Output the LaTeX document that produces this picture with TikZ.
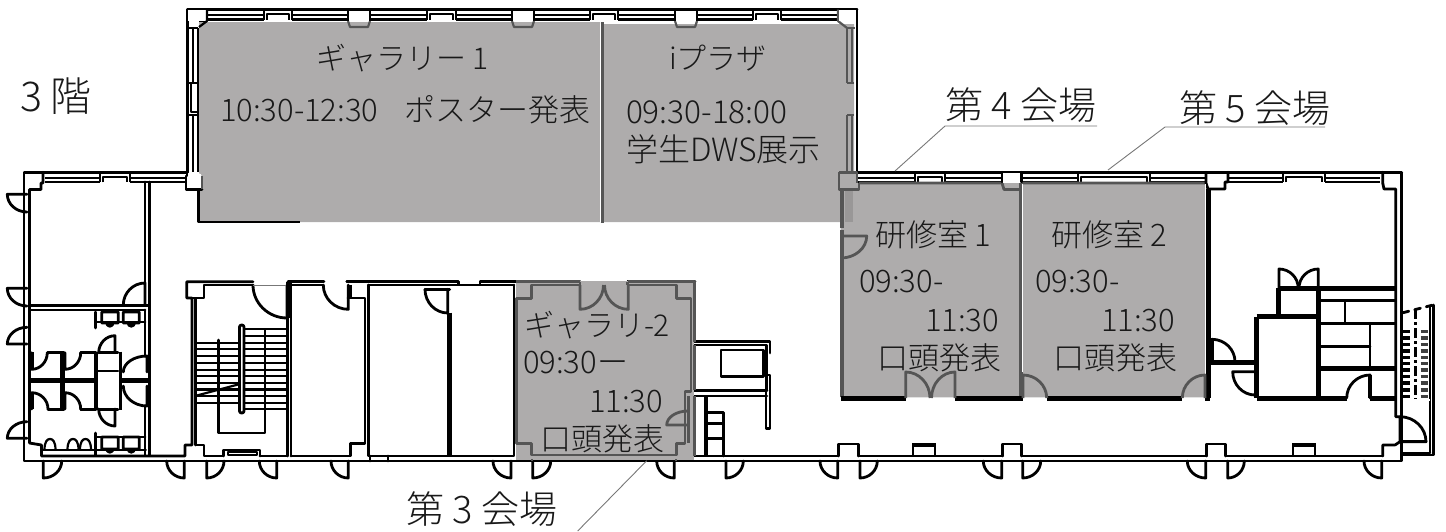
\documentclass[tikz,border=0pt]{standalone}
\usepackage{fontspec}
\usetikzlibrary{calc}
\newfontfamily\jp{Noto Sans CJK JP Light}
\definecolor{roomgray}{HTML}{AEACAC}
\definecolor{wallgray}{HTML}{555555}
\definecolor{stripgray}{HTML}{999797}
\definecolor{leadgray}{HTML}{777777}
\newcommand\dr[7][wl]{\draw[#1] (#2,#3) -- (#4,#5) .. controls ($(#4,#5)+0.55*(#6,#7)-0.55*(#2,#3)$) and ($(#6,#7)+0.55*(#4,#5)-0.55*(#2,#3)$) .. (#6,#7);}
\newcommand\dd[2]{\dr{#1}{461}{#1}{478}{#2}{461}}
\newcommand\win[6][wn]{\draw[#1] (#2,#6+5.5)--(#4,#6+5.5) (#5,#6+5.5)--(#3,#6+5.5) (#2,#6+10)--(#4,#6+10) (#5,#6+10)--(#3,#6+10) (#4,#6)--(#4,#6+10) (#5,#6)--(#5,#6+10) (#4+3,#6+10)--(#4+3,#6+4.5)--(#5-3,#6+4.5)--(#5-3,#6+10);}
\newcommand\tx[4]{\node[txt,font=\jp\fontsize{#1}{#1}\selectfont] (#2) at #3 {#4};}
\tikzset{
  wl/.style={draw=black,line width=1.4pt,line join=round,line cap=round},
  wn/.style={draw=black,line width=1.1pt,line join=round},
  tk/.style={draw=black,line width=2.4pt,line join=round},
  gw/.style={draw=wallgray,line width=1.4pt,line join=round},
  gn/.style={draw=wallgray,line width=1.1pt,line join=round},
  gk/.style={draw=wallgray,line width=2.2pt,line join=round},
  lead/.style={draw=leadgray,line width=0.45pt},
  txt/.style={anchor=base west,inner sep=0pt,outer sep=0pt,text=black!90},
}
\begin{document}
\begin{tikzpicture}[x=0.5pt,y=-0.5pt]
\useasboundingbox (0,0) rectangle (1446,531);
% ---------- base outline, main building
\draw[wl] (187,172.3)--(24,172.3)--(24,461)--(1401.7,461)--(1401.7,172.3)--(857,172.3);
\draw[wl] (43,172.3)--(43,183)--(41,183)--(41,189.5)--(29.5,189.5)--(29.5,443)--(41.5,445)--(41.5,456)--(185,456)--(185,445)--(192,445)--(192,298)--(186.7,298)--(186.7,281.7)--(253,281.7);
\win{45}{185}{100}{130}{172.3}
% NW room
\draw[wl] (145,182)--(145,305) (149.3,182)--(149.3,455.5);
\draw[wl] (30,305.7)--(149,305.7) (30,310)--(145,310);
\dr{145}{305}{145}{283}{123.3}{305}
% toilets
\draw[wl] (95.7,312)--(95.7,328) (95.7,322)--(145,322) (95.7,433)--(95.7,455) (95.7,437)--(145,437);
\foreach \a/\b in {101.7/118.3,123.3/139.3}{
  \draw[wl] (\a,312) rectangle (\b,323) ($(\a,323)!0.3!(\b,323)$) arc[start angle=180,end angle=360,radius=1.6pt];
  \draw[wl] (\a,437) rectangle (\b,449) ($(\a,449)!0.3!(\b,449)$) arc[start angle=180,end angle=360,radius=1.6pt];
}
\foreach \a in {44.5,67.5,80}{
  \draw[wn] (\a,450) .. controls (\a,441) and (\a+3,439) .. (\a+5.5,439) .. controls (\a+8,439) and (\a+11,441) .. (\a+11,450);
}
\draw[wl] (41.5,450)--(145.7,450);
\draw[tk] (30,380.7)--(95,380.7) (120,380.7)--(148,380.7);
\draw[tk] (31.7,352)--(31.7,369) (31.7,392)--(31.7,409) (62.5,352)--(62.5,409);
\draw[wl] (47.5,352.7)--(64,352.7) (80.7,352.7)--(96,352.7) (48,409.3)--(64,409.3) (80.7,409.3)--(96,409.3) (99,352.7)--(118,352.7) (99,409.3)--(118,409.3) (97,371)--(118,371);
\draw[line width=1.8pt] (96,352)--(96,409.7) (120.3,351.7)--(120.3,409.7);
\dr{31.7}{352.7}{31.7}{369.3}{47.3}{352.7}
\dr{65}{352.7}{65}{369.3}{80.7}{352.7}
\dr{31.7}{409}{31.7}{392.7}{48}{409}
\dr{65}{409}{65}{392.7}{80.7}{409}
\dr{115}{352.7}{115}{335.7}{98.7}{352.7}
\dr{115}{409}{115}{426}{98.7}{409}
\dr{147}{372}{147}{356}{123.3}{372}
\dr{147}{386}{147}{406}{123.3}{386}
\draw[wl] (145,310)--(145,356) (145,406)--(145,455);
% left outside doors
\dr{27}{194.3}{7.3}{194.3}{27}{212}
\dr{27}{288.3}{7.3}{288.3}{27}{306}
\dr{27}{344}{7.3}{344}{27}{327.3}
\dr{27}{438.3}{7.3}{438.3}{27}{421.7}
% stair room
\draw[wl] (195.7,445)--(195.7,298)--(204,298)--(204,285)--(253,285);
\draw[wl] (195.7,445)--(204,445)--(204,456)--(223.3,456) (260,456)--(287.5,456);
\draw[wl] (192,298)--(195.7,298);
\dr{287}{285}{287}{318}{253}{285}
\draw[line width=0.5pt,leadgray] (253,285)--(287,285);
\draw[line width=2.8pt] (288.8,281.7)--(288.8,318);
\draw[wl] (287.5,318)--(287.5,456) (291,285)--(291,456);
\foreach \y in {329.3,336,342.7,349.3,356,363,370,376,383,389.5,396,403,409}{\draw[wn] (243,\y)--(286,\y);}
\foreach \y in {342.7,349.3,356,363,370,376,383,389.5,396,403}{\draw[wn] (196.7,\y)--(240,\y);}
\draw[wl,rounded corners=1pt] (239.5,325) rectangle (244,413);
\draw[wl] (218.3,340)--(218.3,433)--(265,433)--(265,330);
\draw[wn] (195,396)--(240,384);
\draw[wl] (223.3,456)--(223.3,450)--(260,450)--(260,456);
\draw[wn] (228,455)--(228,452)--(257,452)--(257,455)--cycle;
% rooms in the centre
\draw[wl] (288,281.7)--(324,281.7) (346.7,281.7)--(458.7,281.7)--(458.7,285)--(480,285)--(480,281.7)--(580,281.7) (627.7,281.7)--(695,281.7);
\draw[wl] (291,285)--(323.3,285) (368.3,285)--(458.7,285) (452,285)--(458.7,285) (480,285)--(514,285);
\draw[wl] (348,298)--(365,298)--(365,443.3)--(350.7,443.3)--(350.7,456)--(291,456);
\draw[line width=2pt] (350,285)--(350,298);
\dr{348.3}{285}{348.3}{309.3}{323.3}{285}
\draw[wl] (368.3,285)--(368.3,456)--(514,456)--(514,285);
\draw[wl] (425,289.3)--(449.7,289.3);
\dr{447.7}{289.3}{447.7}{313}{425}{289.3}
\draw[line width=2.4pt] (449.8,312.7)--(449.8,456);
\draw[wl] (370,456)--(370,461) (388,456)--(388,461);
% right block next to gallery 2
\draw[wl] (694.5,341.7)--(770,341.7)--(770,353) (694.5,345)--(766.5,345)--(766.5,390.7);
\draw[wl] (721,350) rectangle (763.3,376.7);
\draw[wl] (766,375)--(766,428.3)--(770,428.3)--(770,375)--(766,375);
\draw[wl] (688,390.7)--(767,390.7) (688,396)--(767,396);
\draw[line width=2.4pt] (706,396)--(706,456);
\draw[wl] (708,412.7)--(723.3,412.7)--(723.3,456) (708,423.3)--(723.3,423.3) (708,438.3)--(723.3,438.3);
% bottom inner line and columns
\draw[wl] (694,456)--(838.3,456) (858.3,456)--(1002.7,456) (1021.7,456)--(1206.7,456) (1225.7,456)--(1382.7,456);
\draw[wl] (838.3,456)--(838.3,444)--(858.3,444)--(858.3,456);
\draw[wl] (1002.7,456)--(1002.7,444)--(1021.7,444)--(1021.7,456);
\draw[wl] (1206.7,456)--(1206.7,444)--(1225.7,444)--(1225.7,456);
\draw[wl] (913,455.5)--(913,445.5)--(935,445.5)--(935,455.5);
\draw[line width=2.2pt] (912,445)--(936,445);
\draw[wl] (1293,455.5)--(1293,445.5)--(1315,445.5)--(1315,455.5);
\draw[line width=2.2pt] (1292,445)--(1316,445);
\foreach \a/\b in {43.3/61.7,184.3/166.7,206.7/224,276.7/259.3,348.3/331,511/493,532.7/550.7,674.3/656.7,726/743.3,837.7/820,860/877.3,1001.7/983.3,1022.7/1040.7,1205.7/1187.3,1227.7/1244.3,1381.7/1364}{\dd{\a}{\b}}
% upper wing: outline
\draw[wl] (187.5,172.3)--(187.5,9.5)--(857,9.5)--(857,172.3);
\draw[wn] (193,28)--(193,83) (193,115)--(193,172) (198,28)--(198,172);
\draw[wn] (187.5,28)--(198,28) (187.5,83)--(198,83) (187.5,115)--(198,115);
\draw[wn] (191,83)--(191,112)--(198,112);
\win{207}{348}{264}{292}{9.5}
\win{370}{512}{427}{456}{9.5}
\win{533}{675}{590}{618}{9.5}
\win{696}{838}{753}{781}{9.5}
% ---------- grey rooms
\fill[roomgray] (199,22)--(600,22)--(600,24)--(854,24)--(854,172)--(857,172)--(857,190)--(1205.7,190)--(1205.7,397.3)--(840.7,397.3)--(840.7,222)--(199,222)--cycle;
\fill[roomgray] (840.7,183) rectangle (1205.7,397.3);
\fill[roomgray] (516,281) rectangle (694.3,460);
\fill[stripgray] (845,190) rectangle (853,222);
% column shapes inside the grey
\foreach \a in {348,512,675}{
  \draw[gn] (\a,21)--(\a+2,27)--(\a+20,27)--(\a+22,21);
  \fill[white] (\a+0.6,10.2) rectangle (\a+21.4,20.5);
}
\draw[wn] (199,21)--(207,21);
\draw[wl] (187.5,9.5)--(857,9.5);
\foreach \a in {348,512,675}{\draw[wn] (\a,9.5)--(\a,21) (\a+22,9.5)--(\a+22,21);}
\fill[white] (188.2,10.2) rectangle (206.5,20.5);
\draw[wn] (207,9.5)--(207,21)--(199,27);
\draw[gn] (838,9.5)--(838,21)--(847,28);
\fill[white] (838.8,10.2) rectangle (856.2,20.5);
\draw[gn] (838,21)--(838,12);
\draw[gn] (847,28)--(847,83) (847,115)--(847,172) (852,28)--(852,83) (852,115)--(852,172) (847,83)--(854,83) (847,115)--(854,115);
\draw[gn] (847,28)--(855,28);
\draw[wl] (857,9.5)--(857,172.3);
\fill[white,rounded corners=2pt] (186,173) rectangle (202,189);
\draw[wl] (187,172.3)--(187,176)--(186,176)--(186,189.5)--(202,189.5);
\draw[line width=1.2pt,wallgray] (202,176)--(202,189);
\draw[wn] (198.5,190)--(198.5,222)--(300,222);
\draw[line width=1.2pt,draw=wallgray] (602.5,22)--(602.5,222.5);
\draw[line width=0.5pt,white] (600.5,24)--(600.5,222);
% windows lower wing (right)
\win{858}{1001.7}{915}{945}{172.3}
\win{1021.7}{1205}{1078}{1150}{172.3}
\win{1228}{1380}{1283}{1325}{172.3}
\draw[wl] (857,172.3)--(1401.7,172.3);
\draw[gw] (839,172.3)--(857,172.3)--(857,183) (839,172.3)--(839,189.5)--(859,189.5)--(859,183);
\draw[gw] (859,183)--(1002,183)--(1004,189.5)--(1021,189.5) (1021,183)--(1205.5,183);
\fill[white] (1002.5,173) rectangle (1021,182.5);
\draw[wl] (1002,172.3)--(1002,182) (1021.7,172.3)--(1021.7,182);
\draw[wl] (1206,172.3)--(1206,183)--(1208,189)--(1225,189)--(1225,182)--(1228,182) (1228,172.3)--(1228,182);
\draw[wl] (1382.7,172.3)--(1382.7,183)--(1384,189)--(1395.7,189)--(1395.7,416.7)--(1400,416.7)--(1400,441.7) (1395,445)--(1382.7,445)--(1382.7,456) (1395,445)--(1400,441.7);
% ---------- rooms 1 and 2 walls
\draw[gk] (842,189)--(842,228) (842,230)--(842,397);
\dr[gw]{841}{236}{866.7}{236}{841}{258}
\draw[gk] (1020.7,183)--(1020.7,397);
\draw[line width=0.5pt,white] (1022.6,184)--(1022.6,372);
\draw[line width=0.6pt,white] (1205.8,184)--(1205.8,396);
\draw[line width=2.4pt] (1208.6,189)--(1208.6,398);
\draw[tk] (841,398.3)--(906,398.3) (955,398.3)--(1023,398.3) (1046.7,398.3)--(1182.3,398.3) (1205,398.3)--(1210,398.3);
\dr[gw]{905.7}{398}{905.7}{372}{930}{398}
\dr[gw]{955}{398}{955}{372}{931.5}{398}
\dr[gw]{1023}{398}{1023}{375}{1046.7}{398}
\dr[gw]{1205}{398}{1205}{375}{1182.3}{398}
% gallery 2 walls
\draw[gw] (580,281.7)--(580,285) (627.7,281.7)--(627.7,285) (580,281.7)--(516,281.7) (627.7,281.7)--(694.3,281.7)--(694.3,341.7) (694.3,345)--(694.3,390);
\draw[gw] (580,285)--(531.7,285)--(531.7,298.3)--(516.7,298.3)--(516.7,443.3)--(531.7,443.3)--(531.7,455)--(676.7,455)--(676.7,443.3)--(685,443.3)--(685,391.7)--(691,391.7)--(691,298.3)--(676.7,298.3)--(676.7,285)--(628.3,285);
\draw[gw] (688.3,396)--(688.3,443.3);
\dr[gw]{580}{285}{580}{309.3}{603.5}{285}
\dr[gw]{628.3}{285}{628.3}{309.3}{604.5}{285}
\dr[gw]{688}{425}{666.7}{425}{688}{411}
\draw[wl] (516,461)--(694.3,461);
\draw[gw] (694.3,396)--(694.3,456);
\draw[gw] (532,459)--(532,461) (676,459)--(676,461);
% ---------- east block
\draw[line width=2.4pt] (1212,339)--(1212,362);
\dr{1212}{361.7}{1212}{339.3}{1235}{361.7}
\draw[line width=2.2pt] (1210,362.3)--(1258,362.3);
\dr{1255}{371.7}{1232.7}{371.7}{1255}{395}
\draw[tk] (1256.7,316.7)--(1256.7,398.3) (1256.7,316.7)--(1318.3,316.7);
\draw[tk] (1278.3,288.3)--(1278.3,316.7);
\draw[line width=2.8pt] (1278,288.3)--(1395,288.3);
\draw[line width=2.4pt] (1318.3,288.3)--(1318.3,398.3);
\draw[tk] (1256.7,398.3)--(1346.7,398.3) (1370,398.3)--(1395,398.3);
\dr{1279}{288}{1279}{269}{1298.2}{288}
\dr{1318.3}{288}{1318.3}{269}{1299}{288}
\draw[wl] (1318,300.7)--(1395,300.7) (1318,323.3)--(1395,323.3) (1345,300.7)--(1345,323.3) (1370,323.3)--(1370,367) (1318,346.7)--(1370,346.7);
\draw[line width=2.8pt] (1318,368.3)--(1395,368.3);
\dr{1370}{398}{1370}{375}{1346.7}{398}
\draw[line width=2pt] (1370,375)--(1370,398);
% fire stairs
\draw[wl] (1400,441.7)--(1426,441.7);
\dr{1400}{441.7}{1426}{441.7}{1400}{416.7}
\draw[wl] (1430,306)--(1430,453) (1433.3,305)--(1433.3,455)--(1403,455) (1403,453)--(1430,453);
\draw[wl,dashed] (1403,312.7)--(1433,305);
\foreach \y in {331.7,338,344.4,350.9,357.3,363.7,370,376.5,383,390,396.5}{
  \draw[line width=1.6pt,black] (1403,\y)--(1410,\y);
  \draw[line width=1.6pt,black!75] (1420.7,\y)--(1428.3,\y);
}
\draw[line width=1.3pt,dash pattern=on 5pt off 1.5pt on 1.5pt off 1.5pt] (1415.7,309)--(1415.7,399);
\draw[line width=1pt,white] (1402.5,399.5)--(1430,399.5);
% ---------- leader lines
\coordinate (u4a) at (945,126); \coordinate (u4b) at (1097,126); \coordinate (t4) at (895,171);
\coordinate (u5a) at (1165,127); \coordinate (u5b) at (1325,127); \coordinate (t5) at (1108,170);
\coordinate (l3a) at (577.7,531); \coordinate (l3b) at (646.7,460.7);
\draw[lead] (t4)--(u4a)--(u4b) (t5)--(u5a)--(u5b) (l3a)--(l3b);
% ---------- texts
\tx{20.5}{floor}{(20,111)}{3 階}
\tx{19}{hall4}{(945,119)}{第 4 会場}
\tx{19}{hall5}{(1179,122)}{第 5 会場}
\tx{19}{hall3}{(406,523)}{第 3 会場}
\tx{15}{gal1}{(316,69)}{ギャラリー 1}
\tx{15.5}{gal1t}{(220,121)}{10:30-12:30\hspace{13pt}ポスター発表}
\tx{15}{ipz}{(669,69)}{iプラザ}
\tx{15.8}{ipzt}{(626,123)}{09:30-18:00}
\tx{16}{ipzd}{(626,161)}{学生DWS展示}
\tx{15.5}{kn1}{(875,246)}{研修室 1}
\tx{15.5}{kn1a}{(859,292)}{09:30-}
\tx{15.5}{kn1b}{(925,331)}{11:30}
\tx{15.5}{kn1c}{(877,369)}{口頭発表}
\tx{15.5}{kn2}{(1051,246)}{研修室 2}
\tx{15.5}{kn2a}{(1035,292)}{09:30-}
\tx{15.5}{kn2b}{(1101,331)}{11:30}
\tx{15.5}{kn2c}{(1053,369)}{口頭発表}
\tx{15}{gal2}{(524,336)}{ギャラリ-2}
\tx{15.5}{gal2a}{(523,373)}{09:30ー}
\tx{15.5}{gal2b}{(589,412)}{11:30}
\tx{15.5}{gal2c}{(540,450)}{口頭発表}
\end{tikzpicture}
\end{document}
